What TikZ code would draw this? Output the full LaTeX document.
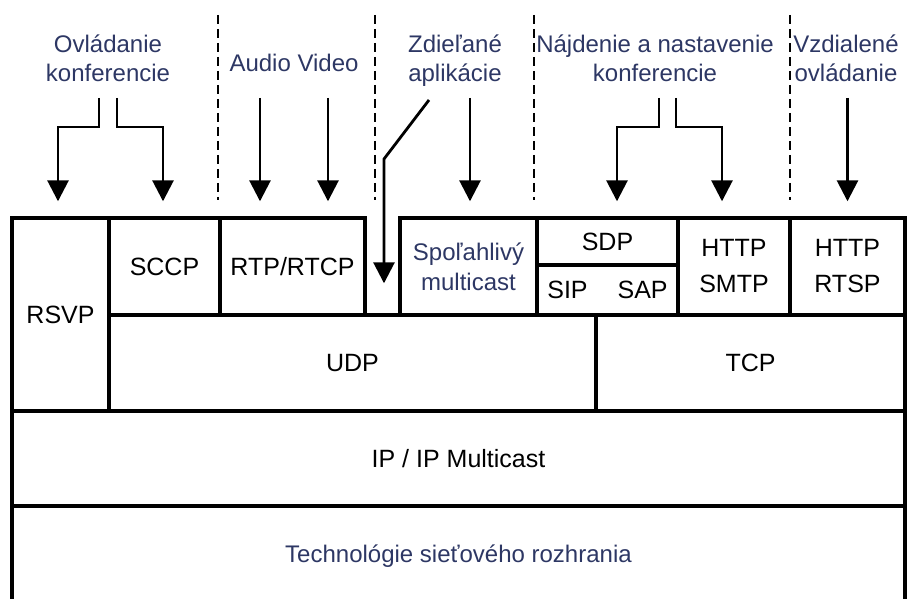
\documentclass[tikz,border=0pt]{standalone}
\usepackage{fontspec}
\setmainfont{Liberation Sans}
\usetikzlibrary{arrows.meta}
\definecolor{lblblue}{RGB}{45,55,100}

\tikzset{
  layer/.style={draw, line width=3.4pt, inner sep=0pt, align=center,
    font=\fontsize{25}{36}\selectfont},
  topic/.style={text=lblblue, inner sep=0pt, align=center, text depth=0pt,
    anchor=south, font=\fontsize{24}{29}\selectfont},
  arr/.style={line width=2.8pt, -{Triangle[width=21pt,length=21pt]}},
  sep/.style={line width=2.6pt, dash pattern=on 9pt off 5pt}
}

\begin{document}
\begin{tikzpicture}[x=1pt,y=-1pt]
  \useasboundingbox (0,0) rectangle (911,599);
  % protocol stack
  \node[layer, minimum width=97pt, minimum height=193pt] (rsvp) at (60.5,314.5) {RSVP};
  \node[layer, minimum width=111pt, minimum height=97pt] (sccp) at (164.5,266.5) {SCCP};
  \node[layer, minimum width=145pt, minimum height=97pt] (rtp) at (292.5,266.5) {RTP/RTCP};
  \node[layer, minimum width=137pt, minimum height=97pt, text=lblblue,
    font=\fontsize{24}{30}\selectfont] (spol) at (468.5,266.5) {Spoľahlivý\\multicast};
  \node[layer, minimum width=141pt, minimum height=47pt] (sdp) at (607.5,241.5) {SDP};
  \node[layer, minimum width=141pt, minimum height=50pt] (sipsap) at (607.5,290) {SIP\hspace{30pt}SAP};
  \node[layer, minimum width=112pt, minimum height=97pt] (smtp) at (734,266.5) {HTTP\\SMTP};
  \node[layer, minimum width=115pt, minimum height=97pt] (rtsp) at (847.5,266.5) {HTTP\\RTSP};
  \node[layer, minimum width=487pt, minimum height=96pt] (udp) at (352.5,363) {UDP};
  \node[layer, minimum width=309pt, minimum height=96pt] (tcp) at (750.5,363) {TCP};
  \node[layer, minimum width=893pt, minimum height=95pt] (ip) at (458.5,458.5) {IP / IP Multicast};
  \node[layer, minimum width=893pt, minimum height=100pt, text=lblblue,
    font=\fontsize{24}{30}\selectfont] (tech) at (458.5,556) {Technológie sieťového rozhrania};
  % application groups
  \node[topic] (ovl) at (108,82) {Ovládanie\\konferencie};
  \node[topic] (av) at (294,72) {Audio Video};
  \node[topic] (zdl) at (455,82) {Zdieľané\\aplikácie};
  \node[topic] (naj) at (655,82) {Nájdenie a nastavenie\\konferencie};
  \node[topic] (vzd) at (846,82) {Vzdialené\\ovládanie};
  % separators
  \draw[sep] (218,15) -- (218,200);
  \draw[sep] (375,15) -- (375,200);
  \draw[sep] (534,15) -- (534,200);
  \draw[sep] (790,15) -- (790,200);
  % arrows
  \draw[arr] ([xshift=-9pt,yshift=-16pt]ovl.south) -- ++(0,29) -| ([xshift=-2.5pt,yshift=15pt]rsvp.north);
  \draw[arr] ([xshift=9pt,yshift=-16pt]ovl.south) -- ++(0,29) -| ([xshift=-1.5pt,yshift=15pt]sccp.north);
  \draw[arr] ([xshift=-34pt,yshift=-26pt]av.south) -- ([xshift=-32.5pt,yshift=15pt]rtp.north);
  \draw[arr] ([xshift=34pt,yshift=-26pt]av.south) -- ([xshift=35.5pt,yshift=15pt]rtp.north);
  \draw[arr] ([xshift=-26pt,yshift=-18pt]zdl.south) -- ++(-45,59) -- ([xshift=31.5pt,yshift=30pt]udp.north);
  \draw[arr] ([xshift=15pt,yshift=-16pt]zdl.south) -- ([xshift=1.5pt,yshift=15pt]spol.north);
  \draw[arr] ([xshift=4pt,yshift=-16pt]naj.south) -- ++(0,29) -| ([xshift=9.5pt,yshift=15pt]sdp.north);
  \draw[arr] ([xshift=21pt,yshift=-16pt]naj.south) -- ++(0,29) -| ([xshift=-12pt,yshift=15pt]smtp.north);
  \draw[arr] ([xshift=1.5pt,yshift=-16pt]vzd.south) -- ([yshift=15pt]rtsp.north);
\end{tikzpicture}
\end{document}
